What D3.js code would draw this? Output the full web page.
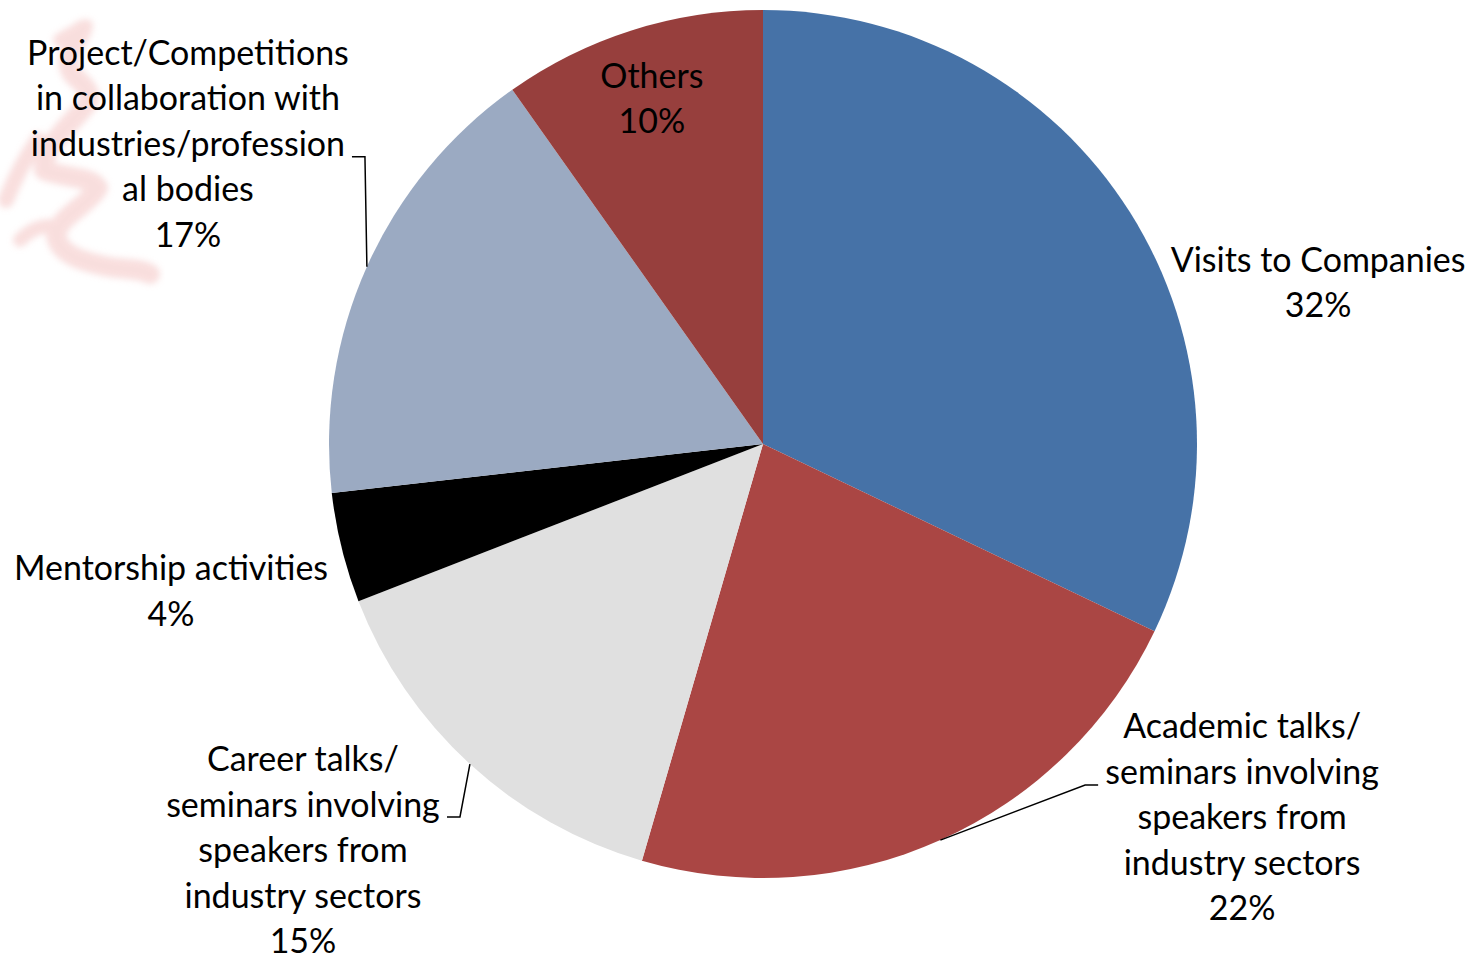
<!DOCTYPE html>
<html>
<head>
<meta charset="utf-8">
<script src="https://cdn.jsdelivr.net/npm/d3@7"></script>
<style>
  html, body { margin: 0; padding: 0; background: #ffffff; }
  svg { display: block; }
</style>
</head>
<body>
<svg id="chart" width="1476" height="957"></svg>
<script>
// ---- data ----
const categories = [
  "Visits to Companies",
  "Academic talks/\nseminars involving\nspeakers from\nindustry sectors",
  "Career talks/\nseminars involving\nspeakers from\nindustry sectors",
  "Mentorship activities",
  "Project/Competitions\nin collaboration with\nindustries/profession\nal bodies",
  "Others"
];
const values = [32.1, 22.4, 14.6, 4.1, 17.0, 9.8];
const colors = ["#4672A7", "#AA4644", "#E0E0E0", "#000000", "#9BAAC2", "#973F3D"];

// ---- layout (label placement relative to pie radius) ----
const labelPos = [
  [1.279, -0.376],
  [1.104, 0.857],
  [-1.060, 0.933],
  [-1.364, 0.335],
  [-1.325, -0.695],
  [-0.256, -0.799]
];
// leader elbows, offset from label centre in px (null = no leader)
const leaderElbow = [null, [-157, -31], [157, -32], null, [177, 14.5], null];

const W = 1476, H = 957;
const cx = 763, cy = 444, R = 434;
const lineH = 45.5;
const fontFamily = "Lato, 'Open Sans', sans-serif";

const svg = d3.select("#chart");

// faint background watermark (decorative)
const defs = svg.append("defs");
defs.append("filter").attr("id", "soft").append("feGaussianBlur").attr("stdDeviation", 3);
const wm = svg.append("g").attr("fill", "none").attr("stroke", "#f5c9c8")
  .attr("stroke-linecap", "round").attr("stroke-linejoin", "round")
  .attr("opacity", 0.6).attr("filter", "url(#soft)");
wm.append("path").attr("stroke-width", 20)
  .attr("d", "M82,30 C72,48 62,62 74,76 C88,88 96,96 82,110 C64,130 42,150 44,170 C62,178 92,176 98,188 C88,206 58,216 56,236 C60,256 86,262 104,266 C124,270 140,268 150,274");
wm.append("path").attr("stroke-width", 16)
  .attr("d", "M6,200 C14,180 24,160 38,140");
wm.append("path").attr("stroke-width", 14)
  .attr("d", "M60,40 C70,34 78,30 86,26");
wm.append("path").attr("stroke-width", 14)
  .attr("d", "M20,240 C30,230 40,226 50,226");

const g = svg.append("g").attr("transform", `translate(${cx},${cy})`);

const pie = d3.pie().sort(null).value(d => d.v);
const data = values.map((v, i) => ({ v, name: categories[i], color: colors[i], i }));
const arcs = pie(data);
const arc = d3.arc().innerRadius(0).outerRadius(R);

g.selectAll("path.slice")
  .data(arcs)
  .join("path")
  .attr("class", "slice")
  .attr("d", arc)
  .attr("fill", d => d.data.color);

// font size fitted to reference width of "Visits to Companies"
const probe = svg.append("text").attr("font-family", fontFamily).attr("font-size", 32).text(categories[0]);
const w32 = probe.node().getComputedTextLength();
probe.remove();
const fontSize = Math.min(34, Math.max(26, 32 * 295 / w32));

const total = d3.sum(values);
const fmt = v => Math.round(v / total * 100) + "%";

// leader lines
arcs.forEach((a, i) => {
  if (!leaderElbow[i]) return;
  const mid = (a.startAngle + a.endAngle) / 2;
  const px = Math.sin(mid) * R, py = -Math.cos(mid) * R;
  const lx = labelPos[i][0] * R, ly = labelPos[i][1] * R;
  const ex = lx + leaderElbow[i][0], ey = ly + leaderElbow[i][1];
  const sx = ex + (leaderElbow[i][0] > 0 ? -13 : 13);
  g.append("polyline")
    .attr("points", `${sx},${ey} ${ex},${ey} ${px},${py}`)
    .attr("fill", "none")
    .attr("stroke", "#000")
    .attr("stroke-width", 1.5);
});

// labels
arcs.forEach((a, i) => {
  const lines = a.data.name.split("\n").concat([fmt(a.data.v)]);
  const lx = labelPos[i][0] * R, ly = labelPos[i][1] * R;
  const t = g.append("text")
    .attr("font-family", fontFamily)
    .attr("font-size", fontSize)
    .attr("fill", "#000")
    .attr("text-anchor", "middle");
  lines.forEach((ln, k) => {
    t.append("tspan")
      .attr("x", lx)
      .attr("y", ly + (k - (lines.length - 1) / 2) * lineH)
      .attr("dominant-baseline", "central")
      .text(ln);
  });
});
</script>
</body>
</html>
